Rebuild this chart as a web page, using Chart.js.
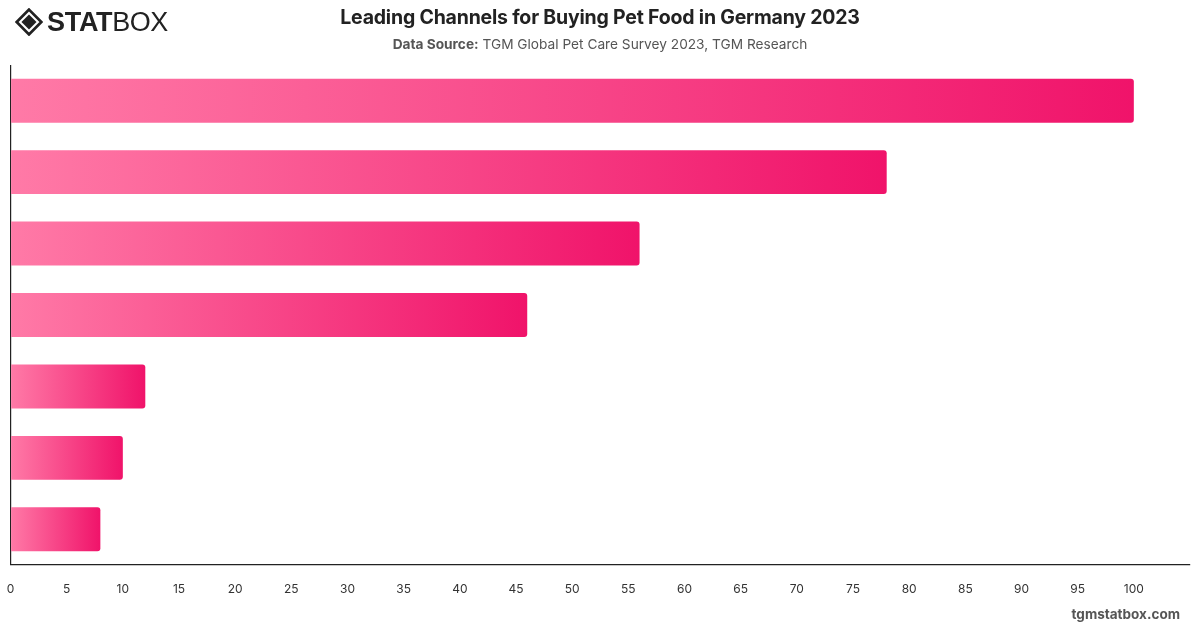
<!DOCTYPE html>
<html>
<head>
<meta charset="utf-8">
<script src="https://cdn.jsdelivr.net/npm/chart.js@4.4.1/dist/chart.umd.min.js"></script>
<style>
  html, body { margin: 0; padding: 0; background: #fff; }
  body { width: 1200px; height: 628px; position: relative; overflow: hidden; font-family: Inter, "Helvetica Neue", Arial, sans-serif; }
  #wrap { position: absolute; left: 0; top: 0; width: 1200px; height: 628px; }
  #title { position: absolute; left: 0; width: 1200px; top: 5px; text-align: center; font-size: 19.5px; font-weight: 700; color: #222; letter-spacing: -0.2px; }
  #sub { position: absolute; left: 0; width: 1200px; top: 36px; text-align: center; font-size: 13.7px; color: #555; }
  #sub b { font-weight: 700; color: #555; }
  #logo { position: absolute; left: 15px; top: 7px; height: 30px; display: flex; align-items: center; }
  #logo .t1 { font-family: "Liberation Sans", Arial, sans-serif; font-weight: 700; font-size: 27px; color: #222; letter-spacing: -0.3px; margin-left: 4px; }
  #logo .t2 { font-family: "Liberation Sans", Arial, sans-serif; font-weight: 400; font-size: 27px; color: #222; letter-spacing: -0.5px; }
  #foot { position: absolute; right: 20px; top: 606px; font-size: 13.5px; font-weight: 700; color: #555; }
</style>
</head>
<body>
<div id="wrap"><canvas id="c" width="1200" height="628"></canvas></div>
<div id="logo">
  <svg width="28" height="28" viewBox="0 0 26 26">
    <polygon points="13,1.5 24.5,13 13,24.5 1.5,13" fill="none" stroke="#222" stroke-width="2.6"/>
    <polygon points="13,6 20,13 13,20 6,13" fill="#222"/>
  </svg>
  <span class="t1">STAT</span><span class="t2">BOX</span>
</div>
<div id="title">Leading Channels for Buying Pet Food in Germany 2023</div>
<div id="sub"><b>Data Source:</b> TGM Global Pet Care Survey 2023, TGM Research</div>
<div id="foot">tgmstatbox.com</div>
<script>
const categories = ["Supermarkets", "Pet stores", "Online shops", "Discount stores", "Veterinarians", "Drugstores", "Other"];
const values = [100, 78, 56, 46, 12, 10, 8];
const tickValues = [0, 5, 10, 15, 20, 25, 30, 35, 40, 45, 50, 55, 60, 65, 70, 75, 80, 85, 90, 95, 100];

function barGradient(ctx) {
  const chart = ctx.chart;
  const area = chart.chartArea;
  if (!area) return '#f5488a';
  const xs = chart.scales.x;
  const v = ctx.raw;
  const x0 = xs.getPixelForValue(0);
  const x1 = xs.getPixelForValue(v);
  const g = chart.ctx.createLinearGradient(x0, 0, Math.max(x1, x0 + 1), 0);
  g.addColorStop(0, '#ff7aa7');
  g.addColorStop(1, '#f0136a');
  return g;
}

new Chart(document.getElementById('c'), {
  type: 'bar',
  data: {
    labels: categories,
    datasets: [{
      data: values,
      backgroundColor: barGradient,
      borderRadius: 3,
      borderSkipped: 'start',
      categoryPercentage: 1,
      barPercentage: 0.615
    }]
  },
  options: {
    indexAxis: 'y',
    responsive: false,
    animation: false,
    devicePixelRatio: 1,
    layout: { padding: { left: 10.5, right: 10, top: 65, bottom: 0 } },
    plugins: { legend: { display: false }, title: { display: false }, tooltip: { enabled: false } },
    scales: {
      x: {
        min: 0, max: 105,
        grid: {
          display: true, drawTicks: false, drawOnChartArea: true,
          color: (c) => (c.tick && c.tick.value === 0 ? '#222' : 'rgba(0,0,0,0)'),
          lineWidth: 1.2
        },
        border: { display: true, color: '#222', width: 1.2 },
        afterFit: (s) => { s.height = 63; s.paddingLeft = 0; s.paddingRight = 0; },
        afterBuildTicks: (s) => { s.ticks = tickValues.map(v => ({ value: v })); },
        ticks: {
          padding: 17,
          color: '#333',
          font: { family: 'Inter, "Helvetica Neue", Arial, sans-serif', size: 12 },
          maxRotation: 0,
          autoSkip: false
        }
      },
      y: {
        display: false
      }
    }
  }
});
</script>
</body>
</html>
